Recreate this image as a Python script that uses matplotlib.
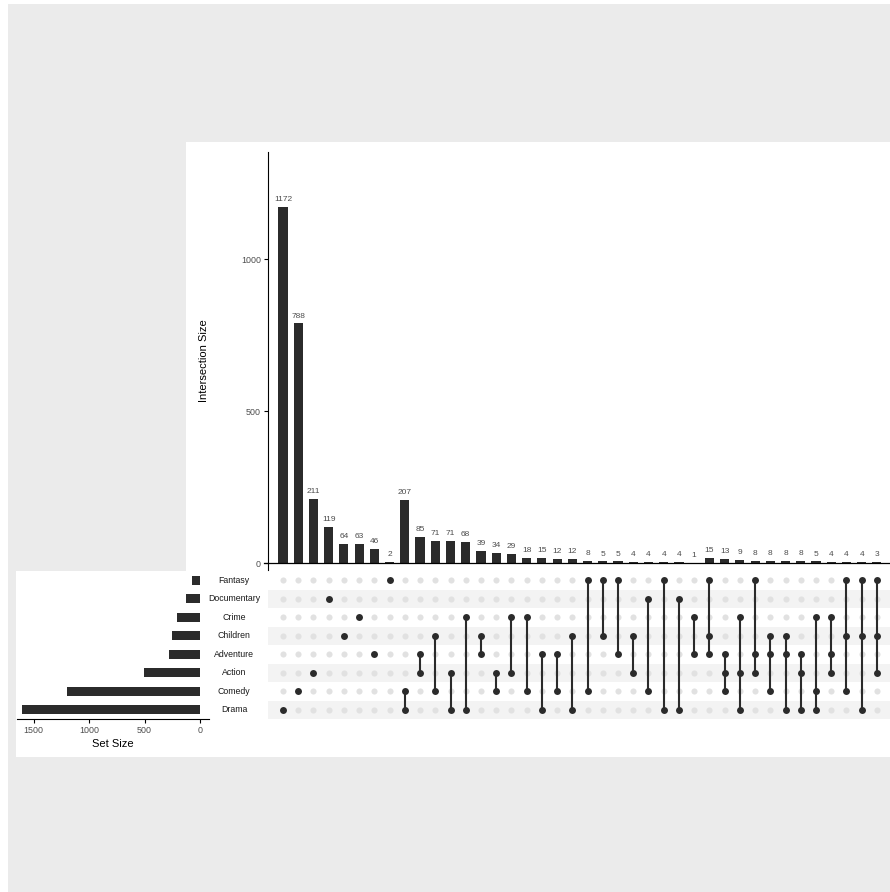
import numpy as np
import matplotlib.pyplot as plt
from matplotlib.patches import Rectangle
import matplotlib.transforms as mtransforms

plt.rcParams['font.family'] = ['Liberation Sans', 'DejaVu Sans']

sets = ["Fantasy", "Documentary", "Crime", "Children", "Adventure", "Action", "Comedy", "Drama"]
set_sizes = [68, 127, 211, 251, 283, 503, 1200, 1603]

counts = [1172, 788, 211, 119, 64, 63, 46, 2, 207, 85, 71, 71, 68, 39, 34, 29, 18, 15, 12, 12,
          8, 5, 5, 4, 4, 4, 4, 1, 15, 13, 9, 8, 8, 8, 8, 5, 4, 4, 4, 3]
members = [
    ["Drama"], ["Comedy"], ["Action"], ["Documentary"], ["Children"], ["Crime"], ["Adventure"], ["Fantasy"],
    ["Comedy", "Drama"], ["Adventure", "Action"], ["Children", "Comedy"], ["Action", "Drama"],
    ["Crime", "Drama"], ["Children", "Adventure"], ["Action", "Comedy"], ["Crime", "Action"],
    ["Crime", "Comedy"], ["Adventure", "Drama"], ["Adventure", "Comedy"], ["Children", "Drama"],
    ["Fantasy", "Comedy"], ["Fantasy", "Children"], ["Fantasy", "Adventure"], ["Children", "Action"],
    ["Documentary", "Comedy"], ["Fantasy", "Drama"], ["Documentary", "Drama"], ["Crime", "Adventure"],
    ["Fantasy", "Children", "Adventure"], ["Adventure", "Action", "Comedy"], ["Crime", "Action", "Drama"],
    ["Fantasy", "Adventure", "Action"], ["Children", "Adventure", "Comedy"], ["Children", "Adventure", "Drama"],
    ["Adventure", "Action", "Drama"], ["Crime", "Comedy", "Drama"], ["Crime", "Adventure", "Action"],
    ["Fantasy", "Children", "Comedy"], ["Fantasy", "Children", "Drama"], ["Fantasy", "Children", "Action"],
]

W, H = 890, 892
fig = plt.figure(figsize=(W / 100, H / 100), dpi=100)
fig.patch.set_facecolor("white")


def frect(x0, y0, x1, y1, color):
    # rectangle in pixel coords (y from top)
    fig.patches.append(Rectangle((x0 / W, 1 - y1 / H), (x1 - x0) / W, (y1 - y0) / H,
                                 transform=fig.transFigure, facecolor=color, edgecolor="none", zorder=-10))


frect(8, 4, 890, 892, "#EBEBEB")
frect(186, 142, 890, 757, "white")
frect(16, 571, 186, 757, "white")

dark = "#2B2B2B"
tickc = "#4D4D4D"
n = len(counts)
x = np.arange(n)
xlim = (-0.985, 39.86)

# intersection bars
ax = fig.add_axes([268 / W, 1 - 570 / H, 622 / W, 418 / H])
ax.set_facecolor("none")
ax.bar(x, counts, width=0.6, color=dark)
for xi, c in zip(x, counts):
    ax.text(xi, c + 13, str(c), ha="center", va="bottom", fontsize=6.0, color=tickc)
ax.axhline(0, color="black", lw=0.9, xmin=-0.006, clip_on=False)
ax.set_xlim(*xlim)
ax.set_ylim(-23, 1352)
ax.set_yticks([0, 500, 1000])
ax.set_xticks([])
ax.tick_params(axis="y", labelsize=6.4, labelcolor=tickc, length=3, width=0.8, pad=2)
for s in ["top", "right", "bottom"]:
    ax.spines[s].set_visible(False)
ax.spines["left"].set_linewidth(0.8)
ax.set_ylabel("Intersection Size", fontsize=8, labelpad=23)

# matrix
axm = fig.add_axes([268 / W, 1 - 719 / H, 622 / W, 148 / H])
axm.set_facecolor("none")
axm.set_xlim(*xlim)
axm.set_ylim(7.5, -0.5)
for r in range(1, 8, 2):
    axm.axhspan(r - 0.5, r + 0.5, color="#F3F3F3", lw=0, zorder=0)
for i in range(n):
    rows = [sets.index(m) for m in members[i]]
    for r in range(len(sets)):
        if r not in rows:
            axm.plot(i, r, "o", color="#E1E1E1", ms=4.4, mew=0, zorder=1)
    if len(rows) > 1:
        axm.plot([i, i], [min(rows), max(rows)], color=dark, lw=1.5, zorder=2)
    axm.plot([i] * len(rows), rows, "o", color=dark, ms=5.0, mew=0, zorder=3)
axm.axis("off")

# set names
tr = mtransforms.blended_transform_factory(fig.transFigure, axm.transData)
for r, s in enumerate(sets):
    fig.text(234 / W, r, s, transform=tr, ha="center", va="center", fontsize=6.3, color="#1A1A1A")

# set sizes
axs = fig.add_axes([17 / W, 1 - 719 / H, 192 / W, 148 / H])
axs.set_facecolor("none")
axs.barh(np.arange(len(sets)), set_sizes, height=0.5, color=dark)
axs.set_xlim(1649, -81)
axs.set_ylim(7.5, -0.5)
axs.set_xticks([1500, 1000, 500, 0])
axs.set_yticks([])
axs.tick_params(axis="x", labelsize=6.4, labelcolor=tickc, length=3, width=0.8, pad=2)
for s in ["top", "right", "left"]:
    axs.spines[s].set_visible(False)
axs.spines["bottom"].set_linewidth(0.8)
axs.set_xlabel("Set Size", fontsize=8, labelpad=3)

fig.savefig("out.png", dpi=100, facecolor=fig.get_facecolor())
